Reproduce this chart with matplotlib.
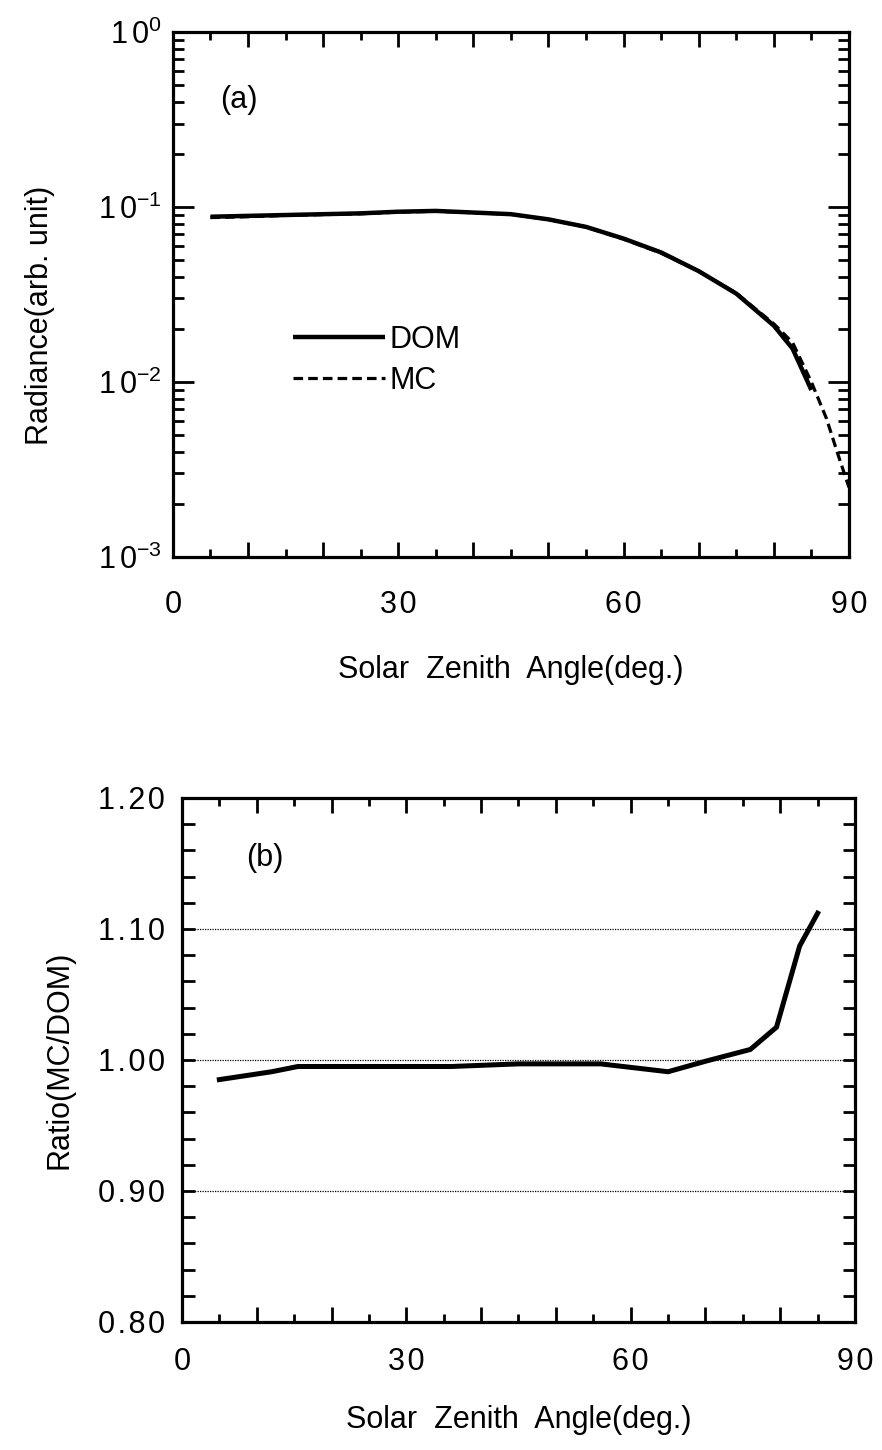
import math
import matplotlib
matplotlib.use("Agg")
import matplotlib.pyplot as plt
from matplotlib.ticker import MultipleLocator, LogLocator, FuncFormatter, NullFormatter

plt.rcParams['font.family'] = ['Liberation Sans', 'DejaVu Sans']
plt.rcParams['mathtext.fontset'] = 'custom'
plt.rcParams['mathtext.rm'] = 'Liberation Sans'
plt.rcParams['mathtext.it'] = 'Liberation Sans:italic'
plt.rcParams['mathtext.bf'] = 'Liberation Sans:bold'

# ---- data: panel (a) ----
sza_dom = [5, 10, 15, 20, 25, 30, 35, 40, 45, 50, 55, 60, 65, 70, 75, 80, 82.5, 85]
rad_dom = [0.088, 0.089, 0.090, 0.091, 0.092, 0.094, 0.095, 0.093, 0.091, 0.085,
           0.077, 0.066, 0.055, 0.043, 0.032, 0.021, 0.0155, 0.0090]
sza_mc = [5, 10, 15, 20, 25, 30, 35, 40, 45, 50, 55, 60, 65, 70, 75, 80, 82.5, 85, 87, 88.5, 90]
rad_mc = [0.087, 0.088, 0.0895, 0.0905, 0.0915, 0.0935, 0.0945, 0.0928, 0.0908, 0.0848,
          0.0768, 0.0655, 0.0545, 0.043, 0.0322, 0.0215, 0.0168, 0.0100, 0.0062, 0.0039, 0.0025]

# ---- data: panel (b) ----
sza_ratio = [5, 12, 15.5, 26, 36, 45, 56, 65, 70, 76, 79.5, 82.6, 85]
ratio = [0.985, 0.991, 0.995, 0.995, 0.995, 0.997, 0.997, 0.991, 0.999, 1.008, 1.025, 1.087, 1.112]

x_label = "Solar  Zenith  Angle(deg.)"
ylabel_a = "Radiance(arb. unit)"
ylabel_b = "Ratio(MC/DOM)"

SP_X = "\u2009"
SP_Y = "\u200a"


def spaced(s, sp):
    return sp.join(list(s))


fig = plt.figure(figsize=(8.82, 14.5), dpi=100)
ax1 = fig.add_axes([0.196, 0.6159, 0.7665, 0.362])
ax2 = fig.add_axes([0.2063, 0.0883, 0.7631, 0.3614])

tick_fs = 22
lab_fs = 22

for ax in (ax1, ax2):
    for s in ax.spines.values():
        s.set_linewidth(2.3)
    ax.tick_params(which='both', direction='in', top=True, right=True, width=2.0,
                   labelsize=tick_fs)
    ax.tick_params(which='major', length=11)
    ax.tick_params(which='minor', length=6)
    ax.set_xlim(0, 90)
    ax.xaxis.set_major_locator(MultipleLocator(10))
    ax.xaxis.set_minor_locator(MultipleLocator(5))
    ax.xaxis.set_major_formatter(FuncFormatter(
        lambda v, p: spaced(f"{v:.0f}", SP_Y) if abs(v % 30) < 1e-6 else ""))
    ax.set_xlabel(x_label, fontsize=lab_fs)

ax1.tick_params(axis='x', pad=24)
ax2.tick_params(axis='x', pad=18)
ax1.xaxis.set_label_coords(0.5, -0.187)
ax2.xaxis.set_label_coords(0.5, -0.158)

# panel (a)
ax1.set_yscale('log')
ax1.set_ylim(1e-3, 1)
ax1.yaxis.set_major_locator(LogLocator(base=10, numticks=10))
ax1.yaxis.set_minor_locator(LogLocator(base=10, subs=range(2, 10), numticks=10))
ax1.yaxis.set_minor_formatter(NullFormatter())
ax1.yaxis.set_major_formatter(FuncFormatter(
    lambda v, p: r"$\mathdefault{1\,0^{" + ("%d" % round(math.log10(v))) + "}}$"))
ax1.tick_params(axis='y', which='major', length=15, pad=8)
ax1.tick_params(axis='y', which='minor', length=8)
ax1.plot(sza_dom, rad_dom, color='black', lw=3.2, solid_capstyle='butt', label='DOM')
ax1.plot(sza_mc, rad_mc, color='black', lw=2.3, linestyle=(0, (3, 1.6)), label='MC')
ax1.set_ylabel(ylabel_a, fontsize=lab_fs)
ax1.yaxis.set_label_coords(-0.175, 0.46)
ax1.text(0.07, 0.87, "(a)", transform=ax1.transAxes, fontsize=22, va='center')
leg = ax1.legend(loc='upper left', bbox_to_anchor=(0.16, 0.466), frameon=False,
                 fontsize=22, handlelength=3.0, handletextpad=0.15, labelspacing=0.38,
                 borderaxespad=0)
for t in leg.get_texts():
    t.set_stretch('condensed')

# panel (b)
ax2.set_ylim(0.80, 1.20)
ax2.yaxis.set_major_locator(MultipleLocator(0.1))
ax2.yaxis.set_minor_locator(MultipleLocator(0.02))
ax2.yaxis.set_major_formatter(FuncFormatter(lambda v, p: spaced(f"{v:.2f}", SP_Y)))
ax2.yaxis.grid(True, which='major', linestyle=(0, (1, 1)), color='black', linewidth=0.9)
ax2.tick_params(axis='y', which='both', length=9, pad=12)
ax2.plot(sza_ratio, ratio, color='black', lw=3.6, solid_joinstyle='miter')
ax2.set_ylabel(ylabel_b, fontsize=lab_fs)
ax2.yaxis.set_label_coords(-0.159, 0.5)
ax2.text(0.095, 0.885, "(b)", transform=ax2.transAxes, fontsize=22, va='center')

fig.savefig("out.png", dpi=100, facecolor='white')
